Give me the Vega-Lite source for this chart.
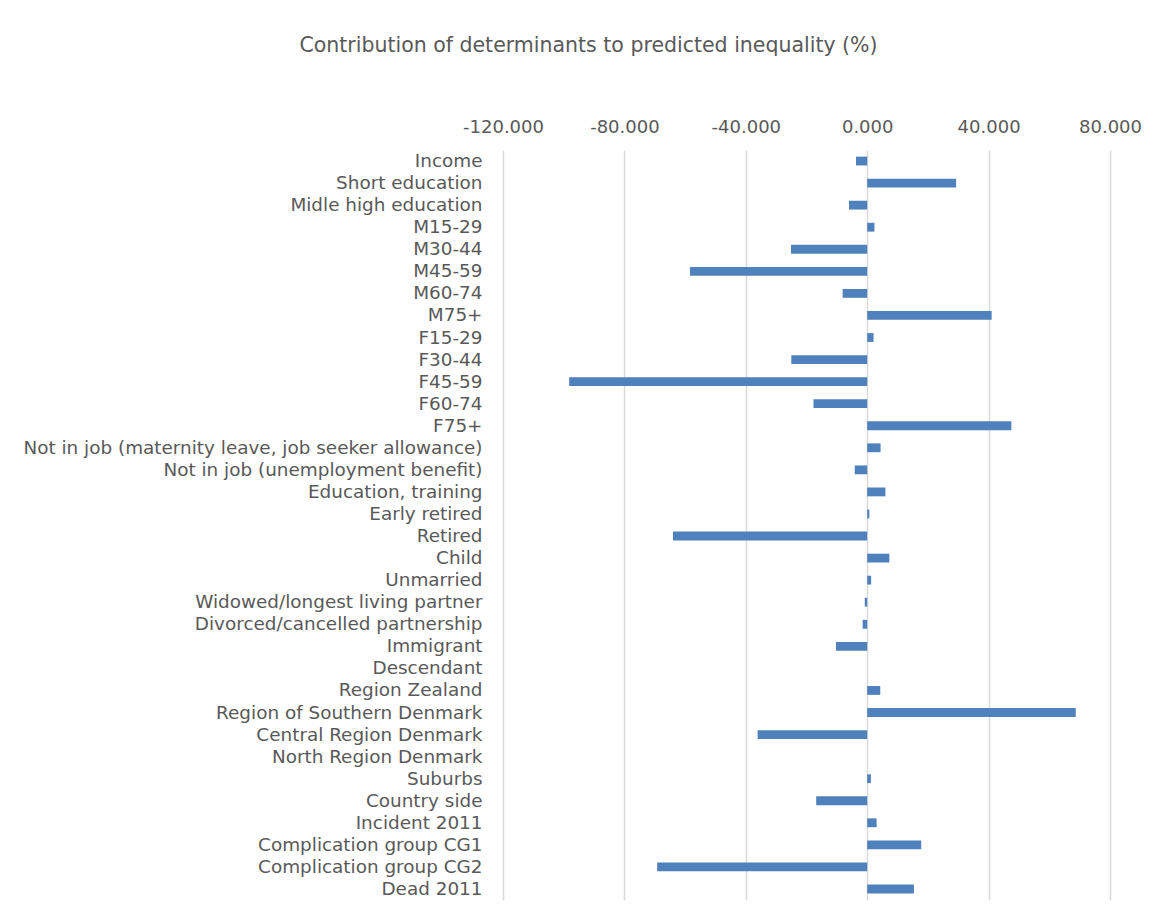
{
  "$schema": "https://vega.github.io/schema/vega-lite/v6.json",
  "autosize": {"type": "none"},
  "padding": {"left": 503, "top": 150, "right": 51, "bottom": 20},
  "width": 607,
  "height": 750,
  "background": "white",
  "title": {
    "text": "Contribution of determinants to predicted inequality (%)",
    "font": "DejaVu Sans",
    "fontWeight": "normal",
    "fontSize": 20.5,
    "color": "#595959",
    "anchor": "middle",
    "dx": -218,
    "offset": 62
  },
  "data": {
    "values": [
      {"label": "Income", "value": -3.7},
      {"label": "Short education", "value": 29.3},
      {"label": "Midle high education", "value": -6.0},
      {"label": "M15-29", "value": 2.4},
      {"label": "M30-44", "value": -25.1},
      {"label": "M45-59", "value": -58.4},
      {"label": "M60-74", "value": -8.1},
      {"label": "M75+", "value": 41.0},
      {"label": "F15-29", "value": 2.1},
      {"label": "F30-44", "value": -25.0},
      {"label": "F45-59", "value": -98.2},
      {"label": "F60-74", "value": -17.7},
      {"label": "F75+", "value": 47.5},
      {"label": "Not in job (maternity leave, job seeker allowance)", "value": 4.4},
      {"label": "Not in job (unemployment benefit)", "value": -4.1},
      {"label": "Education, training", "value": 6.0},
      {"label": "Early retired", "value": 0.7},
      {"label": "Retired", "value": -64.0},
      {"label": "Child", "value": 7.3},
      {"label": "Unmarried", "value": 1.3},
      {"label": "Widowed/longest living partner", "value": -0.8},
      {"label": "Divorced/cancelled partnership", "value": -1.5},
      {"label": "Immigrant", "value": -10.3},
      {"label": "Descendant", "value": 0},
      {"label": "Region Zealand", "value": 4.3},
      {"label": "Region of Southern Denmark", "value": 68.7},
      {"label": "Central Region Denmark", "value": -36.1},
      {"label": "North Region Denmark", "value": 0},
      {"label": "Suburbs", "value": 1.2},
      {"label": "Country side", "value": -16.8},
      {"label": "Incident 2011", "value": 3.1},
      {"label": "Complication group CG1", "value": 17.8},
      {"label": "Complication group CG2", "value": -69.2},
      {"label": "Dead 2011", "value": 15.4}
    ]
  },
  "mark": {"type": "bar", "color": "#4f81bd"},
  "encoding": {
    "y": {
      "field": "label",
      "type": "nominal",
      "sort": null,
      "title": null,
      "scale": {"paddingInner": 0.6, "paddingOuter": 0.3},
      "axis": {
        "ticks": false,
        "domain": false,
        "grid": false,
        "labelPadding": 21,
        "labelFont": "DejaVu Sans",
        "labelFontSize": 18.4,
        "labelColor": "#595959",
        "labelLimit": 700
      }
    },
    "x": {
      "field": "value",
      "type": "quantitative",
      "title": null,
      "scale": {"domain": [-120, 80], "nice": false, "zero": false},
      "axis": {
        "orient": "top",
        "values": [-120, -80, -40, 0, 40, 80],
        "labelExpr": "replace(format(datum.value, '.3f'), '\u2212', '-')",
        "labelFlush": false,
        "labelOverlap": false,
        "grid": true,
        "gridColor": "#d9d9d9",
        "gridWidth": 1.5,
        "domain": false,
        "ticks": false,
        "labelPadding": 14,
        "labelFont": "DejaVu Sans",
        "labelFontSize": 18,
        "labelColor": "#595959"
      }
    }
  },
  "config": {"view": {"stroke": null}}
}
